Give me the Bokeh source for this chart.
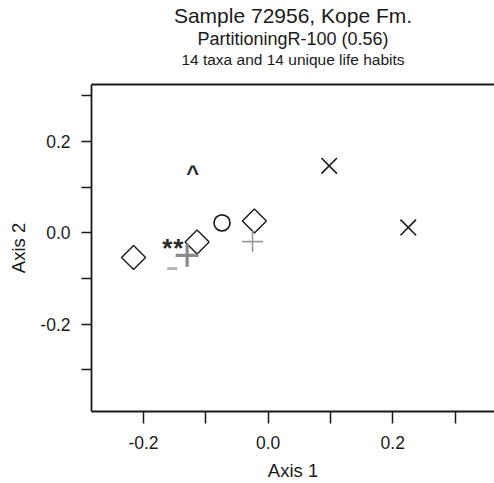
from bokeh.plotting import figure
from bokeh.models import Range1d, FixedTicker, PrintfTickFormatter, LinearAxis, Title
from bokeh.core.properties import value
from bokeh.embed import file_html
from bokeh.resources import INLINE

# ---- data (ordination scores) ----
diamond_x = [-0.216, -0.114, -0.022]
diamond_y = [-0.054, -0.020, 0.026]
cross_x = [0.098, 0.225]
cross_y = [0.147, 0.012]
circle_x = [-0.074]
circle_y = [0.022]
plus_bold_x = [-0.130]
plus_bold_y = [-0.049]
plus_thin_x = [-0.025]
plus_thin_y = [-0.019]
star_x = [-0.162, -0.144]
star_y = [-0.034, -0.034]
caret_x = [-0.121]
caret_y = [0.131]
dash_x = [-0.154]
dash_y = [-0.078]

x_major = [-0.2, 0.0, 0.2]
x_minor = [-0.1, 0.1, 0.3]
y_major = [-0.2, 0.0, 0.2]
y_minor = [-0.3, -0.1, 0.1, 0.3]

title_lines = ["Sample 72956, Kope Fm.", "PartitioningR-100 (0.56)", "14 taxa and 14 unique life habits"]

FONT = "Liberation Sans"
INK = "#1a1a1a"

p = figure(width=494, height=483, output_backend="svg", toolbar_location=None,
           x_range=Range1d(-0.2835, 0.3634), y_range=Range1d(-0.391, 0.325),
           x_axis_type=None, y_axis_type=None,
           min_border_left=91, min_border_right=0, min_border_top=84, min_border_bottom=71)
p.outline_line_color = None
p.background_fill_color = "white"
p.border_fill_color = "white"


def style_axis(ax):
    ax.axis_line_color = INK
    ax.axis_line_width = 1.8
    ax.major_tick_line_color = INK
    ax.minor_tick_line_color = INK
    ax.major_tick_line_width = 1.5
    ax.minor_tick_line_width = 1.5
    ax.major_tick_in = 0
    ax.minor_tick_in = 0
    ax.major_label_text_font = FONT
    ax.major_label_text_font_size = "17.5px"
    ax.major_label_text_color = INK
    ax.axis_label_text_font = FONT
    ax.axis_label_text_font_size = "18.5px"
    ax.axis_label_text_font_style = "normal"
    ax.axis_label_text_color = INK


xax = LinearAxis(ticker=FixedTicker(ticks=x_major, minor_ticks=x_minor),
                 formatter=PrintfTickFormatter(format="%.1f"), axis_label="Axis 1")
style_axis(xax)
xax.major_tick_out = 12
xax.minor_tick_out = 12
xax.major_label_standoff = 12
xax.axis_label_standoff = 8
p.add_layout(xax, "below")

yax = LinearAxis(ticker=FixedTicker(ticks=y_major, minor_ticks=y_minor),
                 formatter=PrintfTickFormatter(format="%.1f"), axis_label="Axis 2")
style_axis(yax)
yax.major_tick_out = 10
yax.minor_tick_out = 10
yax.major_label_standoff = 11
yax.axis_label_standoff = 8
yax.major_label_orientation = "horizontal"
p.add_layout(yax, "left")

top = LinearAxis(ticker=FixedTicker(ticks=[]), axis_line_color=INK, axis_line_width=1.8,
                 major_tick_out=0, major_tick_in=0, minor_tick_out=0, minor_tick_in=0,
                 major_label_standoff=0, axis_label_standoff=0,
                 major_label_text_font_size="0px")
p.add_layout(top, "above")

# spacer between frame and the title block
p.add_layout(Title(text=" ", text_font_size="1px", standoff=14), "above")

# ---- marks ----
p.scatter(diamond_x, diamond_y, marker="square", size=17, angle=0.785398,
          fill_color=None, line_color=INK, line_width=1.4)
p.scatter(cross_x, cross_y, marker="x", size=22, line_color=INK, line_width=1.6)
p.scatter(circle_x, circle_y, marker="circle", size=16, fill_color=None,
          line_color=INK, line_width=1.7)
p.scatter(plus_thin_x, plus_thin_y, marker="cross", size=21, line_color="#9a9a9a", line_width=1.6)
p.scatter(plus_bold_x, plus_bold_y, marker="cross", size=23, line_color="#8a8a8a", line_width=3.2)
p.scatter(dash_x, dash_y, marker="dash", size=10, line_color="#b0b0b0", line_width=2.8)
p.text(star_x, star_y, text=["*"] * len(star_x), text_font=value(FONT), text_font_size="26px",
       text_font_style="bold", text_color="#2a2a2a", text_align="center", text_baseline="middle")
p.text(caret_x, caret_y, text=["^"] * len(caret_x), text_font=value(FONT), text_font_size="22px",
       text_font_style="bold", text_color="#2a2a2a", text_align="center", text_baseline="middle")

# ---- titles: first added sits closest to the frame ----
sizes = ["21px", "18px", "15.5px"]
for t, s in reversed(list(zip(title_lines, sizes))):
    p.add_layout(Title(text=t, align="center", text_font=FONT, text_font_size=s,
                       text_font_style="normal", text_color=INK, standoff=0), "above")

open("out.html", "w").write(file_html(p, INLINE))
